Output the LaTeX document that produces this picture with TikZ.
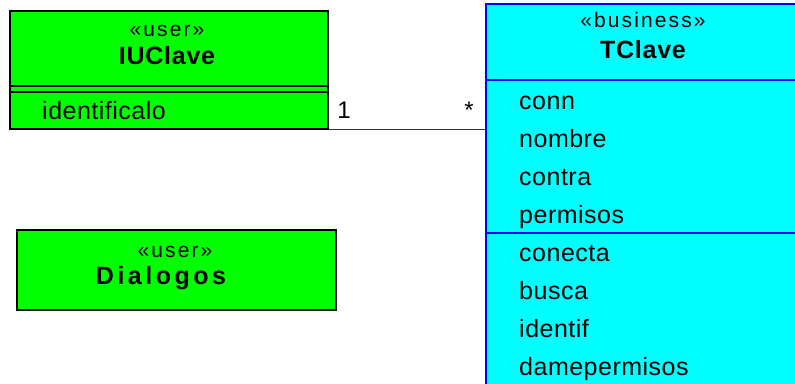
\documentclass[tikz,border=0pt]{standalone}
\usepackage{fontspec}
\setmainfont{Liberation Sans}
\definecolor{umlgreen}{RGB}{0,255,0}
\definecolor{umlcyan}{RGB}{0,255,255}
\definecolor{umlblue}{RGB}{0,0,255}
\tikzset{
  greenclass/.style={draw=black, line width=1.6pt, fill=umlgreen, rectangle, inner sep=0pt, anchor=north west},
  cyanclass/.style={draw=umlblue, line width=1.8pt, fill=umlcyan, rectangle, inner sep=0pt, anchor=north west},
  stereo/.style={anchor=base, inner sep=0pt, font=\fontsize{21}{24}\selectfont\addfontfeature{LetterSpace=10}},
  cname/.style={anchor=base, inner sep=0pt, font=\fontsize{25}{28}\selectfont\bfseries\addfontfeature{LetterSpace=3}},
  widename/.style={font=\fontsize{25}{28}\selectfont\bfseries\addfontfeature{LetterSpace=14}},
  member/.style={anchor=base west, inner sep=0pt, font=\fontsize{25}{28}\selectfont\addfontfeature{LetterSpace=2}},
  mult/.style={anchor=base, inner sep=0pt, font=\fontsize{24}{28}\selectfont},
}
\begin{document}
\begin{tikzpicture}[x=1pt, y=-1pt]
\useasboundingbox (0,0) rectangle (795,383);
\clip (0,0) rectangle (795,383);

% class IUClave
\node[greenclass, minimum width=318pt, minimum height=118pt] (iu) at (9,10) {};
\draw[line width=1.6pt] (iu.west |- 0,86) -- (iu.east |- 0,86);
\draw[line width=1.6pt] (iu.west |- 0,92) -- (iu.east |- 0,92);
\node[stereo] (iustereo) at (167,36) {«user»};
\node[cname] (iuname) at (167,64) {IUClave};
\node[member] (iuop) at (42,119) {identificalo};

% class Dialogos
\node[greenclass, minimum width=319pt, minimum height=80pt] (dlg) at (16,229) {};
\node[stereo] (dlgstereo) at (175,257) {«user»};
\node[cname, widename] (dlgname) at (161,284) {Dialogos};

% class TClave (runs past the right and bottom edges)
\node[cyanclass, minimum width=316pt, minimum height=400pt] (tc) at (485,3) {};
\draw[umlblue, line width=1.8pt] (tc.west |- 0,80) -- (tc.east |- 0,80);
\draw[umlblue, line width=1.8pt] (tc.west |- 0,233) -- (tc.east |- 0,233);
\node[stereo] (tcstereo) at (643,27) {«business»};
\node[cname] (tcname) at (643,58) {TClave};
\foreach \txt/\yy [count=\i] in {conn/109, nombre/147, contra/185, permisos/223,
                                 conecta/261, busca/299, identif/337, damepermisos/375}
  \node[member] (tcm\i) at (519,\yy) {\txt};

% association
\coordinate (assocA) at (iu.south east);
\draw[line width=1.2pt, black!80] (assocA) -- (assocA -| tc.west);
\node[mult] (m1) at (344,118) {1};
\node[mult] (m2) at (469,118) {*};
\end{tikzpicture}
\end{document}
